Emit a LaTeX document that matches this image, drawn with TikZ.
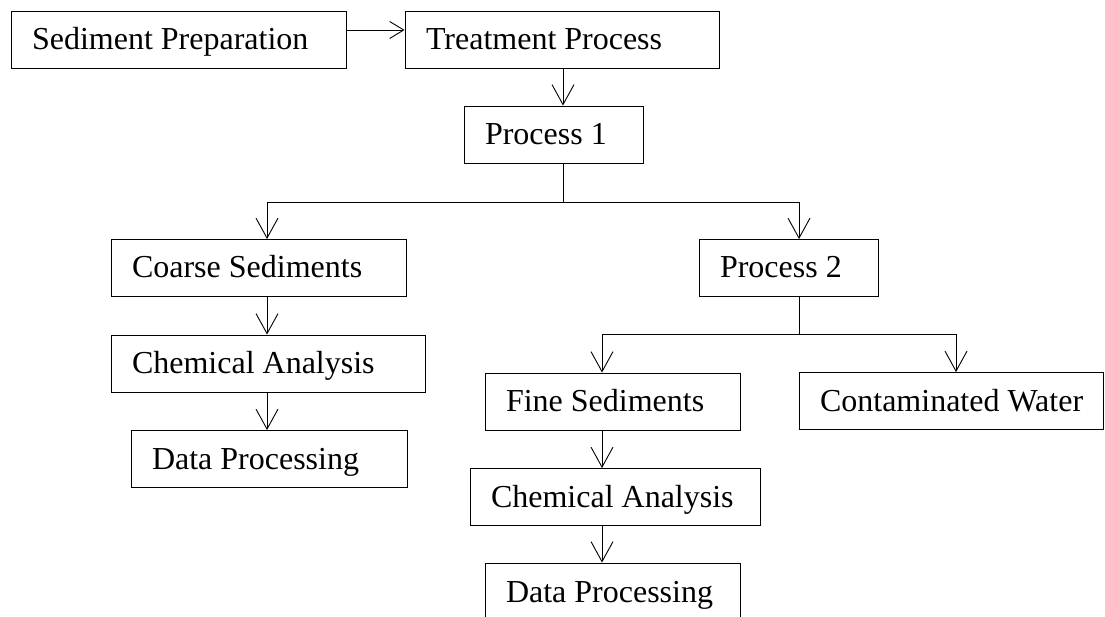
\documentclass[tikz,border=0pt]{standalone}
\usepackage{fontspec}
\setmainfont{Liberation Serif}
\usetikzlibrary{arrows.meta}

\newcommand{\stagetxt}[2]{\makebox[#1pt][l]{#2}}

\tikzset{
	stage/.style = {draw, line width = 0.9pt, inner xsep = 21pt, inner ysep = 0pt,
		minimum height = 57pt, text height = 22pt, text depth = 2pt,
		font = \fontsize{32}{38}\selectfont},
	link/.style = {line width = 0.9pt, -{Straight Barb[length = 20pt, width = 22pt, line width = 0.9pt]}},
	shortlink/.style = {line width = 0.9pt, -{Straight Barb[length = 14pt, width = 17pt, line width = 0.9pt]}}
}

\begin{document}
\begin{tikzpicture}[x = 1pt, y = -1pt]
	\clip (0,0) rectangle (1105,617);
	\fill [white] (0,0) rectangle (1105,617);

	% first row
	\node [stage] (prep) at (178.5,40) {\stagetxt{293}{Sediment Preparation}};
	\node [stage] (treat) at (562,39.5) {\stagetxt{272}{Treatment Process}};
	\node [stage] (p1) at (553.5,134.5) {\stagetxt{137}{Process 1}};

	% left branch
	\node [stage] (coarse) at (258.5,268) {\stagetxt{253}{Coarse Sediments}};
	\node [stage] (chem1) at (268,363.5) {\stagetxt{272}{Chemical Analysis}};
	\node [stage] (data1) at (269,459) {\stagetxt{234}{Data Processing}};

	% right branch
	\node [stage] (p2) at (788.5,268) {\stagetxt{137}{Process 2}};
	\node [stage] (fine) at (612.5,401.5) {\stagetxt{213}{Fine Sediments}};
	\node [stage] (water) at (951,401) {\stagetxt{262}{Contaminated Water}};
	\node [stage] (chem2) at (615,497) {\stagetxt{248}{Chemical Analysis}};
	\node [stage, minimum height = 58pt] (data2) at (612.5,592) {\stagetxt{213}{Data Processing}};

	% junctions
	\coordinate (split1) at (563,202);
	\coordinate (split2) at (799,334);
	\coordinate (colL) at (267,202);
	\coordinate (colP) at (799,202);
	\coordinate (colF) at (602,334);
	\coordinate (colW) at (956,334);

	\draw [shortlink] ([yshift = 10pt]prep.east) -- ([yshift = 10pt]prep.east -| treat.west);
	\draw [link] (split1 |- treat.south) -- (split1 |- p1.north);

	\draw [line width = 0.9pt] (split1 |- p1.south) -- (split1);
	\draw [link] (split1) -- (colL) -- (colL |- coarse.north);
	\draw [link] (split1) -- (colP) -- (colP |- p2.north);

	\draw [link] (colL |- coarse.south) -- (colL |- chem1.north);
	\draw [link] (colL |- chem1.south) -- (colL |- data1.north);

	\draw [line width = 0.9pt] (split2 |- p2.south) -- (split2);
	\draw [link] (split2) -- (colF) -- (colF |- fine.north);
	\draw [link] (split2) -- (colW) -- (colW |- water.north);

	\draw [link] (colF |- fine.south) -- (colF |- chem2.north);
	\draw [link] (colF |- chem2.south) -- (colF |- data2.north);
\end{tikzpicture}
\end{document}
